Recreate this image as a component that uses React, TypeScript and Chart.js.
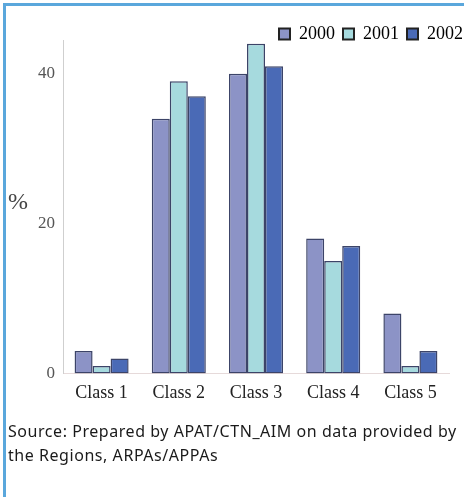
import React, { useEffect, useRef } from "react";
import { Chart, registerables } from "chart.js";

Chart.register(...registerables);

const categories = ["Class 1", "Class 2", "Class 3", "Class 4", "Class 5"];
const years = ["2000", "2001", "2002"];
const values2000 = [3, 34, 40, 18, 8];
const values2001 = [1, 39, 44, 15, 1];
const values2002 = [2, 37, 41, 17, 3];
const yTicks = [0, 20, 40];
const colors = ["#8c93c6", "#a6dade", "#4a6ab6"];
const sourceLines = [
  "Source: Prepared by APAT/CTN_AIM on data provided by",
  "the Regions, ARPAs/APPAs",
];

const legendShift = {
  id: "legendShift",
  afterLayout(chart: any) {
    const l = chart.legend;
    if (!l) return;
    l.top += 13;
    l.bottom += 13;
    l.left += 22;
    l.right += 22;
  },
};

export default function App() {
  const ref = useRef<HTMLCanvasElement | null>(null);

  useEffect(() => {
    if (!ref.current) return;
    const series = [values2000, values2001, values2002];
    const chart = new Chart(ref.current, {
      type: "bar",
      data: {
        labels: categories,
        datasets: years.map((y, i) => ({
          label: y,
          data: series[i],
          backgroundColor: colors[i],
          borderColor: "#3c4468",
          borderWidth: 1.5,
          borderSkipped: false,
          categoryPercentage: 0.7,
          barPercentage: 1,
        })),
      },
      plugins: [legendShift],
      options: {
        animation: false,
        responsive: false,
        layout: { padding: { left: 0, right: 15, top: 4, bottom: 8 } },
        plugins: {
          tooltip: { enabled: false },
          legend: {
            position: "top",
            align: "end",
            labels: {
              boxWidth: 11,
              boxHeight: 11,
              padding: 8,
              color: "#333",
              font: { family: "'Liberation Serif', serif", size: 18 },
              generateLabels: () =>
                years.map((y, i) => ({
                  text: y,
                  fillStyle: colors[i],
                  strokeStyle: "#222",
                  lineWidth: 2,
                  datasetIndex: i,
                  hidden: false,
                })),
            },
          },
        },
        scales: {
          x: {
            grid: { display: false, drawTicks: false },
            border: { display: true, color: "#e6dada" },
            ticks: {
              padding: 9,
              color: "#222",
              font: { family: "'Liberation Serif', serif", size: 18 },
            },
          },
          y: {
            min: 0,
            max: 44.5,
            afterBuildTicks: (s: any) => {
              s.ticks = yTicks.map((v) => ({ value: v }));
            },
            afterFit: (s: any) => {
              s.width = 63;
            },
            grid: { display: false, drawTicks: false },
            border: { display: true, color: "#cfcfcf" },
            ticks: {
              padding: 8,
              color: "#555",
              font: { family: "'Liberation Serif', serif", size: 17 },
            },
          },
        },
      },
    });
    return () => chart.destroy();
  }, []);

  return (
    <div
      style={{
        position: "absolute",
        left: 0,
        top: 0,
        width: 464,
        height: 497,
        background: "#fff",
        overflow: "hidden",
      }}
    >
      <div
        style={{
          position: "absolute",
          left: 3,
          top: 3,
          width: 461,
          height: 494,
          borderLeft: "3px solid #5aa7dc",
          borderTop: "3px solid #5aa7dc",
        }}
      />
      <canvas
        ref={ref}
        width={464}
        height={421}
        style={{ position: "absolute", left: 0, top: 0 }}
      />
      <div
        style={{
          position: "absolute",
          left: 8,
          top: 188,
          fontFamily: "'Liberation Serif', serif",
          fontSize: 24,
          color: "#444",
        }}
      >
        %
      </div>
      <div
        style={{
          position: "absolute",
          left: 8,
          top: 419,
          fontFamily: "'Noto Sans', sans-serif",
          fontSize: 16,
          letterSpacing: "0.55px",
          lineHeight: "24px",
          color: "#1a1a1a",
          whiteSpace: "nowrap",
        }}
      >
        {sourceLines.map((l, i) => (
          <div key={i}>{l}</div>
        ))}
      </div>
    </div>
  );
}
